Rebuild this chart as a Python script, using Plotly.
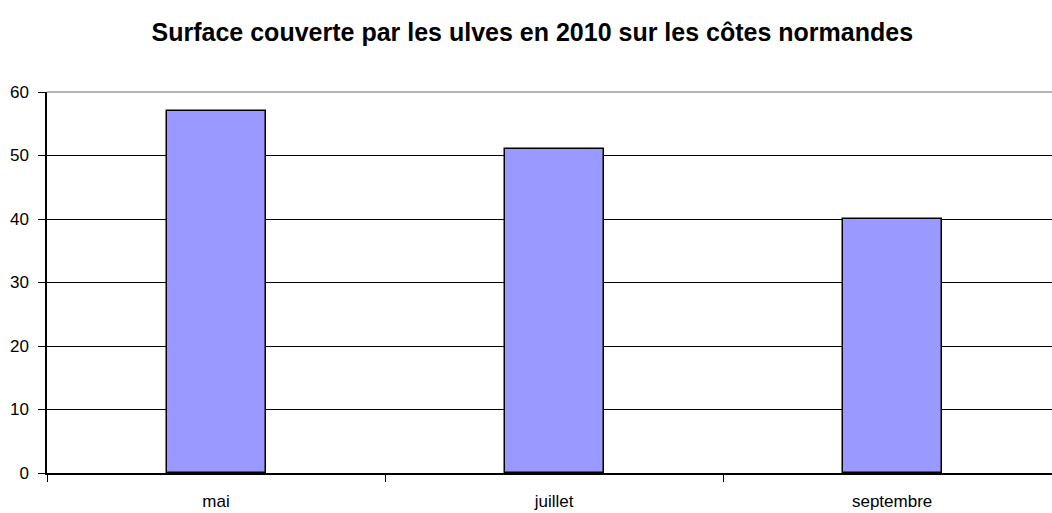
import plotly.graph_objects as go

# Surface covered by green algae (ulves), 2010, Normandy coast
mois = ["mai", "juillet", "septembre"]
surface = [57, 51, 40]
y_ticks = [0, 10, 20, 30, 40, 50, 60]

fig = go.Figure(
    go.Bar(
        x=mois,
        y=surface,
        width=0.293,
        marker=dict(color="#9999FF", line=dict(color="#000000", width=1.5)),
        hoverinfo="x+y",
    )
)

fig.update_layout(
    width=1052,
    height=513,
    margin=dict(l=47, r=0, t=92, b=40),
    paper_bgcolor="white",
    plot_bgcolor="white",
    font=dict(family="Liberation Sans, Arial, sans-serif", size=17, color="#000000"),
    title=dict(
        text="<b>Surface couverte par les ulves en 2010 sur les côtes normandes</b>",
        x=0.506,
        xanchor="center",
        y=0.937,
        yanchor="middle",
        font=dict(size=25, color="#000000"),
    ),
    showlegend=False,
    bargap=0,
)

fig.update_xaxes(
    type="category",
    range=[-0.5, 2.473],
    tickson="boundaries",
    ticks="outside",
    ticklen=7,
    tickwidth=1.2,
    tickcolor="#000000",
    showline=True,
    linecolor="#000000",
    linewidth=1.5,
    showgrid=False,
    tickfont=dict(size=17),
    ticklabelstandoff=12,
)

fig.update_yaxes(
    range=[0, 60],
    tickvals=y_ticks,
    ticks="outside",
    ticklen=7,
    tickwidth=1.2,
    tickcolor="#000000",
    showline=True,
    linecolor="#000000",
    linewidth=1.5,
    showgrid=True,
    gridcolor="#000000",
    gridwidth=1.3,
    zeroline=False,
    tickfont=dict(size=17),
    ticklabelstandoff=6,
)

# light frame line along the top of the plot area
fig.add_shape(
    type="line", xref="paper", yref="paper", x0=0, x1=1, y0=1, y1=1,
    line=dict(color="#9a9a9a", width=1.5),
)

fig.write_html("out.html")
